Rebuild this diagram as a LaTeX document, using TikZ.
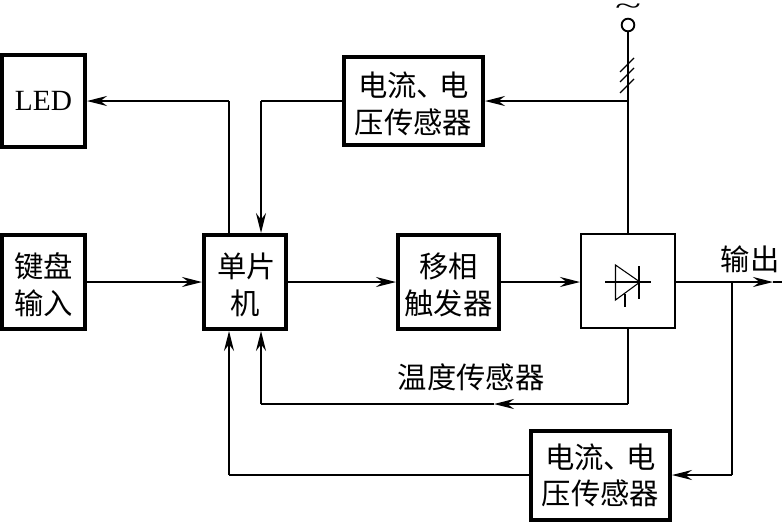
\documentclass[tikz,border=0pt]{standalone}
\usepackage{fontspec}
\usepackage{graphicx}
\setmainfont{Noto Sans CJK SC}
\newfontfamily\latinserif{Liberation Serif}
\usetikzlibrary{arrows.meta,calc}
\newlength{\framewd}
\setlength{\framewd}{2.8pt}
% taller first line, which lowers a block's text slightly
\newcommand{\lowerline}{\rule{0pt}{22.4pt}}
\tikzset{
  x=0.75pt,y=-0.75pt,
  block/.style={draw=black,line width=\framewd,inner sep=0pt,align=center,anchor=north west,
    font=\fontsize{22}{27.5}\selectfont},
  link/.style={line width=1pt,draw=black},
  tip/.style={-{Stealth[length=15pt,width=7.5pt,inset=5pt]}},
  caption/.style={inner sep=0pt,font=\fontsize{22}{27.5}\selectfont},
  thin symbol/.style={line width=0.8pt},
}
\begin{document}
\begin{tikzpicture}
\useasboundingbox (0,0) rectangle (782,522);
% blocks: the size given is the path size, the frame adds its own width
\node[block,minimum width=62.45pt,minimum height=68.95pt] (led) at (0,53) {\latinserif LED};
\node[block,minimum width=104.45pt,minimum height=66.2pt] (isenseTop) at (342,55) {\lowerline 电流、\hspace{-5pt}电\\压传感器};
\node[block,minimum width=62.45pt,minimum height=70.7pt] (keys) at (0,233) {\lowerline 键盘\\输入};
\node[block,line width=3.2pt,minimum width=61.3pt,minimum height=70.3pt] (mcu) at (202,233) {\lowerline\hspace{2pt}单片\\机};
\node[block,minimum width=75.95pt,minimum height=70.7pt] (trigger) at (396,233) {\lowerline 移相\\触发器};
\node[draw=black,line width=1.5pt,anchor=north west,inner sep=0pt,minimum width=70.5pt,minimum height=70.5pt] (scr) at (580,233) {};
\node[block,minimum width=104.45pt,minimum height=66.95pt] (isenseBot) at (529,429) {电流、\hspace{-5pt}电\\压传感器};
% supply terminal
\node[circle,draw=black,line width=1.4pt,inner sep=0pt,minimum size=9.5pt] (mains) at (628,25) {};
\node[inner sep=0pt,font=\latinserif\fontsize{24}{24}\selectfont] (acsign) at (628,9) {\scalebox{1.5}[0.8]{\symbol{"7E}}};
% free captions
\node[caption] (tempLabel) at (471,377) {温度传感器};
\node[caption] (outLabel) at (750,259) {输出};
% junctions and bends
\coordinate (busTap) at (628,101);
\coordinate (fbCorner) at (261,101);
\coordinate (ledCorner) at (229,101);
\coordinate (outEnd) at (782,282);
\coordinate (outTip) at (773,282);
\coordinate (outBranch) at (732,282);
\coordinate (tempCorner) at (628,404);
\coordinate (tempMid) at (494,404);
\coordinate (tempLeft) at (261,404);
\coordinate (botRight) at (732,475);
\coordinate (botLeft) at (229,475);
% connectors
\draw[link] (mains) -- (scr.north -| mains);
\draw[link,tip] (busTap) -- (isenseTop.east |- busTap);
\draw[link] (isenseTop.west |- fbCorner) -- (fbCorner);
\draw[link,tip] (fbCorner) -- (mcu.north -| fbCorner);
\draw[link] (mcu.north -| ledCorner) -- (ledCorner);
\draw[link,tip] (ledCorner) -- (led.east |- ledCorner);
\draw[link,tip] (keys.east |- outEnd) -- (mcu.west |- outEnd);
\draw[link,tip] (mcu.east |- outEnd) -- (trigger.west |- outEnd);
\draw[link,tip] (trigger.east |- outEnd) -- (scr.west |- outEnd);
\draw[link,tip] (scr.east |- outEnd) -- (outTip);
\draw[link] (outTip) -- (outEnd);
\draw[link] (scr.south -| tempCorner) -- (tempCorner);
\draw[link,tip] (tempCorner) -- (tempMid);
\draw[link] (tempMid) -- (tempLeft);
\draw[link,tip] (tempLeft) -- (mcu.south -| tempLeft);
\draw[link] (outBranch) -- (botRight);
\draw[link,tip] (botRight) -- (isenseBot.east |- botRight);
\draw[link] (isenseBot.west |- botLeft) -- (botLeft);
\draw[link,tip] (botLeft) -- (mcu.south -| botLeft);
% slashes across the three-phase line
\foreach \yy in {72,82,93}
  \draw[line width=1pt] (620,\yy) -- (634,\yy-14);
% thyristor symbol
\draw[thin symbol,line join=miter] (615.5,265) -- (615.5,300) -- (640,282) -- cycle;
\draw[thin symbol] (639,266) -- (639,299);
\draw[thin symbol] (605,282) -- (651,282);
\draw[thin symbol] (625,294) -- (625,307);
\end{tikzpicture}
\end{document}
